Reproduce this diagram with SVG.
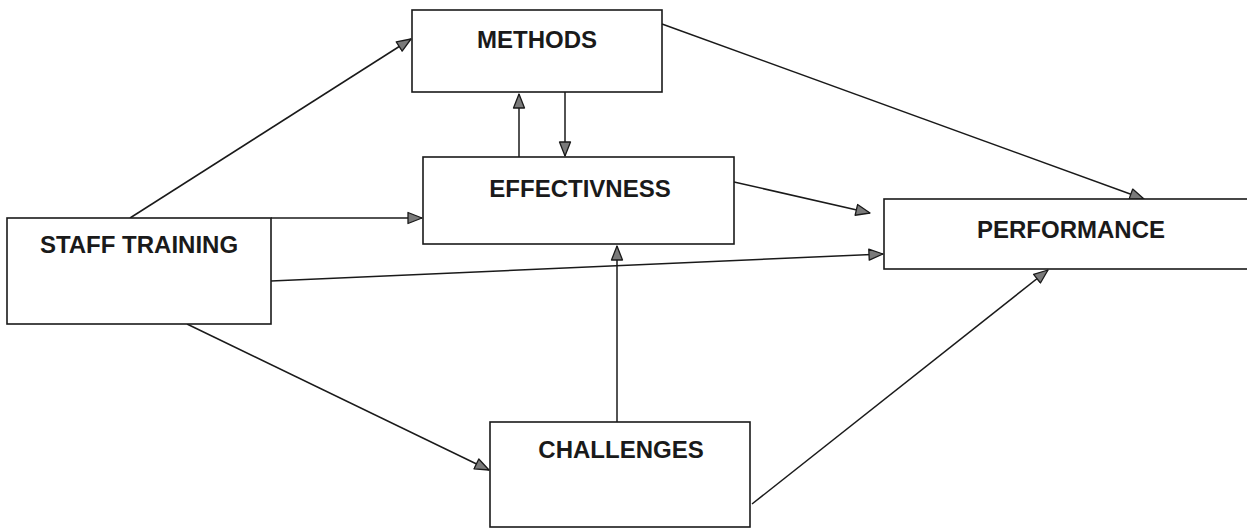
<svg xmlns="http://www.w3.org/2000/svg" width="1247" height="529" viewBox="0 0 1247 529">
<style>
.box{fill:#fff;stroke:#1a1a1a;stroke-width:1.6}
.lbl{font-family:"Liberation Sans",Arial,sans-serif;font-weight:bold;font-size:24px;fill:#1a1a1a;text-anchor:middle}
.edge{stroke:#1a1a1a;stroke-width:1.5;fill:none;marker-end:url(#ah)}
</style>
<defs>
<marker id="ah" viewBox="0 0 16 14" refX="15" refY="7" markerWidth="16" markerHeight="14" orient="auto" markerUnits="userSpaceOnUse">
<path d="M1,1.5 L15,7 L1,12.5 z" fill="#7a7a7a" stroke="#1a1a1a" stroke-width="1.3" stroke-linejoin="round"/>
</marker>
</defs>
<rect width="1247" height="529" fill="#fff"/>
<g id="connectors">
<line class="edge" x1="130" y1="218" x2="411" y2="39"/>
<line class="edge" x1="519" y1="157" x2="519" y2="94"/>
<line class="edge" x1="565" y1="92" x2="565" y2="156"/>
<line class="edge" x1="271" y1="218" x2="422" y2="218"/>
<line class="edge" x1="271" y1="281" x2="883" y2="254"/>
<line class="edge" x1="734" y1="182" x2="870" y2="213"/>
<line class="edge" x1="662" y1="24" x2="1144" y2="199"/>
<line class="edge" x1="617" y1="422" x2="617" y2="246"/>
<line class="edge" x1="187" y1="324" x2="489" y2="470"/>
<line class="edge" x1="752" y1="504" x2="1048" y2="270"/>
</g>
<g id="methods">
<rect class="box" x="412" y="10" width="250" height="82"/>
<text class="lbl" x="537" y="48">METHODS</text>
</g>
<g id="effectiveness">
<rect class="box" x="423" y="157" width="311" height="87"/>
<text class="lbl" x="580" y="197">EFFECTIVNESS</text>
</g>
<g id="staff-training">
<rect class="box" x="7" y="218" width="264" height="106"/>
<text class="lbl" x="139" y="253">STAFF TRAINING</text>
</g>
<g id="performance">
<rect class="box" x="884" y="199" width="374" height="70"/>
<text class="lbl" x="1071" y="238">PERFORMANCE</text>
</g>
<g id="challenges">
<rect class="box" x="490" y="422" width="260" height="105"/>
<text class="lbl" x="621" y="458">CHALLENGES</text>
</g>
</svg>
